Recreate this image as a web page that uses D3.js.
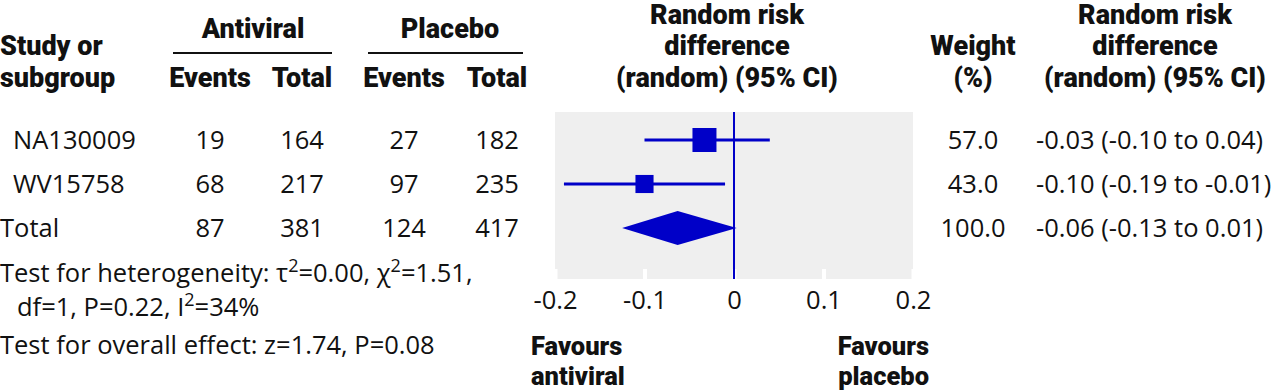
<!DOCTYPE html>
<html>
<head>
<meta charset="utf-8">
<script src="https://cdn.jsdelivr.net/npm/d3@7"></script>
<style>
  body { margin: 0; background: #fff; }
  svg text { fill: #111; }
  .reg { font-family: "Open Sans", sans-serif; font-size: 25.5px; }
  .bold { font-family: Roboto, sans-serif; font-weight: 900; font-size: 27px; }
  .fav { font-family: Roboto, sans-serif; font-weight: 900; font-size: 25.5px; }
</style>
</head>
<body>
<svg id="chart" width="1280" height="392"></svg>
<script>
// table data
const studies = ["NA130009", "WV15758", "Total"];
const antiviralEvents = [19, 68, 87];
const antiviralTotal = [164, 217, 381];
const placeboEvents = [27, 97, 124];
const placeboTotal = [182, 235, 417];
const weights = [57.0, 43.0, 100.0];
const estimates = [-0.033, -0.10, -0.063];
const lower = [-0.10, -0.19, -0.125];
const upper = [0.04, -0.01, 0.003];
const ciLabels = ["-0.03 (-0.10 to 0.04)", "-0.10 (-0.19 to -0.01)", "-0.06 (-0.13 to 0.01)"];

// text bits
const studyHeader = ["Study or", "subgroup"];
const groups = ["Antiviral", "Placebo"];
const subHeaders = ["Events", "Total", "Events", "Total"];
const plotHeader = ["Random risk", "difference", "(random) (95% CI)"];
const weightHeader = ["Weight", "(%)"];
const ciHeader = ["Random risk", "difference", "(random) (95% CI)"];
const xTicks = [-0.2, -0.1, 0, 0.1, 0.2];
const favours = [["Favours", "antiviral"], ["Favours", "placebo"]];
const testLines = [
  "Test for heterogeneity: τ^2=0.00, χ^2=1.51,",
  "df=1, P=0.22, I^2=34%",
  "Test for overall effect: z=1.74, P=0.08"
];

const blue = "#0000c8";
const svg = d3.select("#chart");

const colX = [210, 302, 404, 497];
const groupX = [253, 450];
const groupLine = [[173, 332], [368, 523]];
const headBase = [24, 55, 87];

const x = d3.scaleLinear().domain([-0.2, 0.2]).range([555, 913]);
const y = d3.scalePoint().domain(studies).range([140, 228]);
const boxSize = d3.scaleLinear().domain([0, 57]).range([0, 24]);

// headers
svg.selectAll(".studyHead").data(studyHeader).enter().append("text")
  .attr("class", "bold").attr("x", 0).attr("y", (d, i) => headBase[i + 1]).text(d => d);

svg.selectAll(".grp").data(groups).enter().append("text")
  .attr("class", "bold").attr("text-anchor", "middle")
  .attr("x", (d, i) => groupX[i]).attr("y", 38).text(d => d);

svg.selectAll(".grpLine").data(groupLine).enter().append("line")
  .attr("x1", d => d[0]).attr("x2", d => d[1])
  .attr("y1", 53).attr("y2", 53)
  .attr("stroke", "#111").attr("stroke-width", 2);

svg.selectAll(".sub").data(subHeaders).enter().append("text")
  .attr("class", "bold").attr("text-anchor", "middle")
  .attr("x", (d, i) => colX[i]).attr("y", headBase[2]).text(d => d);

svg.selectAll(".plotHead").data(plotHeader).enter().append("text")
  .attr("class", "bold").attr("text-anchor", "middle")
  .attr("x", 727).attr("y", (d, i) => headBase[i]).text(d => d);

svg.selectAll(".wHead").data(weightHeader).enter().append("text")
  .attr("class", "bold").attr("text-anchor", "middle")
  .attr("x", 973).attr("y", (d, i) => headBase[i + 1]).text(d => d);

svg.selectAll(".ciHead").data(ciHeader).enter().append("text")
  .attr("class", "bold").attr("text-anchor", "middle")
  .attr("x", 1155).attr("y", (d, i) => headBase[i]).text(d => d);

// rows
const rowBase = d => y(d) + 9;

svg.selectAll(".study").data(studies).enter().append("text")
  .attr("class", "reg")
  .attr("x", d => d === "Total" ? 0 : 13)
  .attr("y", rowBase).text(d => d);

[antiviralEvents, antiviralTotal, placeboEvents, placeboTotal].forEach((col, c) => {
  svg.selectAll(".col" + c).data(col).enter().append("text")
    .attr("class", "reg").attr("text-anchor", "middle")
    .attr("x", colX[c]).attr("y", (d, i) => rowBase(studies[i])).text(d => d);
});

svg.selectAll(".weight").data(weights).enter().append("text")
  .attr("class", "reg").attr("text-anchor", "middle")
  .attr("x", 973).attr("y", (d, i) => rowBase(studies[i])).text(d => d.toFixed(1));

svg.selectAll(".ci").data(ciLabels).enter().append("text")
  .attr("class", "reg")
  .attr("x", 1036).attr("y", (d, i) => rowBase(studies[i])).text(d => d);

// plot panel
svg.append("rect")
  .attr("x", x(-0.2)).attr("y", 112)
  .attr("width", x(0.2) - x(-0.2)).attr("height", 279 - 112)
  .attr("fill", "#efefef");

const xAxis = d3.axisBottom(x).tickValues(xTicks)
  .tickFormat(d => String(d)).tickSizeInner(-10).tickSizeOuter(0).tickPadding(12);

const axisG = svg.append("g").attr("transform", "translate(0,279)").call(xAxis);
axisG.select(".domain").remove();
axisG.selectAll(".tick line").attr("stroke", "#fff").attr("stroke-width", 4);
axisG.selectAll(".tick text").attr("class", "reg").attr("fill", "#111");

svg.append("line")
  .attr("x1", x(0)).attr("x2", x(0)).attr("y1", 112).attr("y2", 279)
  .attr("stroke", blue).attr("stroke-width", 2);

const studyIdx = d3.range(studies.length - 1);

svg.selectAll(".ciLine").data(studyIdx).enter().append("line")
  .attr("x1", i => x(lower[i])).attr("x2", i => x(upper[i]))
  .attr("y1", i => y(studies[i])).attr("y2", i => y(studies[i]))
  .attr("stroke", blue).attr("stroke-width", 3);

svg.selectAll(".box").data(studyIdx).enter().append("rect")
  .attr("x", i => x(estimates[i]) - boxSize(weights[i]) / 2)
  .attr("y", i => y(studies[i]) - boxSize(weights[i]) / 2)
  .attr("width", i => boxSize(weights[i]))
  .attr("height", i => boxSize(weights[i]))
  .attr("fill", blue);

const t = studies.length - 1;
const ty = y(studies[t]);
svg.append("path")
  .attr("d", `M${x(lower[t])},${ty}L${x(estimates[t])},${ty - 17}L${x(upper[t])},${ty}L${x(estimates[t])},${ty + 17}Z`)
  .attr("fill", blue);

// tests
const testText = svg.selectAll(".test").data(testLines).enter().append("text")
  .attr("class", "reg").attr("x", (d, i) => i === 1 ? 17 : 0)
  .attr("y", (d, i) => [282, 316, 354][i]);

testText.each(function(d) {
  const el = d3.select(this);
  d.split("^2").forEach((part, k) => {
    if (k > 0) {
      el.append("tspan").attr("dy", -10).attr("font-size", 18).text("2");
      el.append("tspan").attr("dy", 10).text(part);
    } else {
      el.append("tspan").text(part);
    }
  });
});

// favours (two lines in one text)
const favText = svg.selectAll(".favText").data(favours).enter().append("text")
  .attr("class", "fav")
  .attr("text-anchor", (d, j) => j === 0 ? "start" : "end")
  .attr("y", 355);

favText.each(function(lines, j) {
  const el = d3.select(this);
  const fx = j === 0 ? 531 : 929;
  lines.forEach((line, i) => {
    el.append("tspan").attr("x", fx).attr("dy", i === 0 ? 0 : 30).text(line);
  });
});
</script>
</body>
</html>
